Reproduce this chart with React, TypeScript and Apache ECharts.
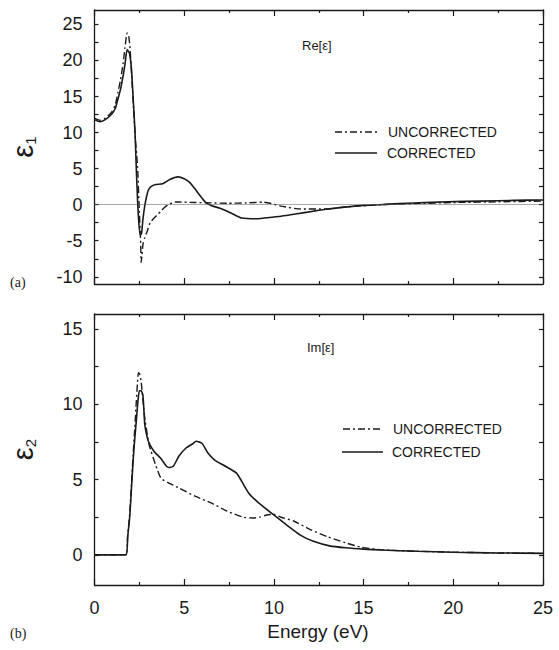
import React, { useEffect, useRef } from "react";
import * as echarts from "echarts";

// ---- Panel (a): Re[eps] ----
const reCorrE = [0, 0.3, 0.6, 0.94, 1.15, 1.3, 1.45, 1.59, 1.7, 1.82, 1.95, 2.06, 2.16, 2.26, 2.33, 2.4, 2.47, 2.55, 2.62, 2.7, 2.8, 2.9, 3.0, 3.15, 3.4, 3.8, 4.2, 4.65, 5.0, 5.3, 5.6, 5.9, 6.2, 6.5, 7.0, 7.4, 7.8, 8.2, 9.0, 10.0, 10.4, 11.2, 12.2, 13.0, 14.1, 15.0, 15.9, 17.0, 17.8, 19.7, 21.5, 23.4, 25];
const reCorrV = [11.8, 11.5, 11.8, 12.5, 13.3, 14.6, 16.0, 17.8, 19.5, 21.5, 21.0, 18.8, 14.5, 10.0, 5.0, 0.7, -2.5, -4.2, -4.0, -2.0, -0.2, 1.1, 2.0, 2.5, 2.8, 2.9, 3.5, 3.85, 3.6, 3.1, 2.2, 1.2, 0.3, -0.1, -0.5, -0.9, -1.4, -1.85, -1.95, -1.7, -1.6, -1.3, -0.9, -0.6, -0.3, -0.1, 0.0, 0.15, 0.23, 0.4, 0.5, 0.6, 0.65];
const reUncE = [0, 0.3, 0.6, 0.94, 1.15, 1.3, 1.45, 1.59, 1.7, 1.82, 1.9, 1.97, 2.06, 2.15, 2.28, 2.4, 2.5, 2.57, 2.6, 2.65, 2.7, 2.8, 2.95, 3.1, 3.3, 3.5, 3.7, 3.9, 4.1, 4.5, 5.0, 5.6, 6.5, 7.4, 8.5, 9.4, 9.8, 10.4, 11.5, 12.9, 14.1, 15.9, 17.8, 20, 22.5, 25];
const reUncV = [12.0, 11.7, 12.0, 12.8, 13.8, 15.5, 17.3, 19.5, 21.8, 23.8, 23.5, 22.0, 18.5, 14.6, 9.0, 5.3, -1.0, -5.0, -8.0, -7.0, -5.5, -4.6, -3.6, -2.5, -1.9, -1.4, -0.9, -0.4, 0.0, 0.37, 0.35, 0.3, 0.25, 0.2, 0.25, 0.35, 0.2, -0.2, -0.6, -0.6, -0.3, 0.0, 0.15, 0.3, 0.4, 0.5];

// ---- Panel (b): Im[eps] ----
const imCorrE = [0, 1.74, 1.85, 1.96, 2.05, 2.15, 2.25, 2.33, 2.42, 2.5, 2.6, 2.7, 2.8, 2.9, 3.0, 3.3, 3.7, 4.0, 4.15, 4.4, 4.7, 5.1, 5.5, 5.66, 6.0, 6.3, 6.7, 7.2, 7.9, 8.2, 8.6, 9.2, 10.0, 10.7, 11.5, 12.2, 13.1, 14.0, 15.0, 16.0, 18.0, 20.0, 22.5, 25];
const imCorrV = [0, 0, 1.2, 2.5, 4.2, 6.2, 7.8, 8.9, 10.2, 10.9, 10.9, 10.6, 8.7, 8.0, 7.55, 6.9, 6.4, 5.9, 5.8, 5.9, 6.55, 7.1, 7.4, 7.55, 7.4, 6.8, 6.3, 5.95, 5.45, 4.9, 4.1, 3.4, 2.65, 2.0, 1.3, 0.9, 0.6, 0.47, 0.38, 0.32, 0.24, 0.18, 0.13, 0.1];
const imUncE = [0, 1.74, 1.85, 1.96, 2.05, 2.15, 2.25, 2.33, 2.4, 2.45, 2.52, 2.6, 2.7, 2.8, 3.05, 3.4, 3.7, 4.1, 4.7, 5.6, 6.5, 7.4, 8.3, 8.8, 9.2, 9.6, 10.0, 10.4, 11.1, 12.0, 13.0, 14.0, 14.9, 15.9, 17, 18, 20, 22.5, 25];
const imUncV = [0, 0, 1.3, 2.7, 4.5, 6.6, 8.5, 10.2, 11.5, 12.1, 12.0, 11.5, 10.3, 9.1, 7.3, 6.0, 5.1, 4.8, 4.45, 3.9, 3.45, 2.9, 2.5, 2.45, 2.5, 2.65, 2.7, 2.5, 2.25, 1.7, 1.2, 0.8, 0.5, 0.35, 0.28, 0.24, 0.18, 0.13, 0.1];

// ---- Ticks ----
const reYTicks = [-10, -7.5, -5, -2.5, 0, 2.5, 5, 7.5, 10, 12.5, 15, 17.5, 20, 22.5, 25];
const reYLabels = [-10, -5, 0, 5, 10, 15, 20, 25];
const imYTicks = [0, 2.5, 5, 7.5, 10, 12.5, 15];
const imYLabels = [0, 5, 10, 15];

const legendNames = ["UNCORRECTED", "CORRECTED"];

const pair = (xs: number[], ys: number[]) => xs.map((x, i) => [x, ys[i]]);

const FONT = '"Liberation Sans", Arial, Helvetica, sans-serif';
const INK = "#1a1a1a";
const DASHDOT = [7, 3, 2, 3];

export default function App() {
  const ref = useRef<HTMLDivElement>(null);
  useEffect(() => {
    if (!ref.current) return;
    const chart = echarts.init(ref.current, null, { renderer: "svg" });
    const axisLine = { show: true, onZero: false, lineStyle: { color: INK, width: 1.3 } };
    const xBase = (gridIndex: number, position: string, showLabels: boolean) => ({
      type: "value",
      gridIndex,
      position,
      min: 0,
      max: 25,
      interval: 5,
      axisLine,
      axisTick: { show: true, inside: true, length: 6, lineStyle: { color: INK, width: 1.2 } },
      minorTick: { show: true, splitNumber: 2, length: 3, lineStyle: { color: INK, width: 1.2 } },
      splitLine: { show: false },
      axisLabel: showLabels
        ? { show: true, fontSize: 18, fontFamily: FONT, color: INK, margin: 14 }
        : { show: false },
    });
    const yBase = (gridIndex: number, position: string, min: number, max: number, ticks: number[], labels: number[], showLabels: boolean, name?: string) => ({
      type: "value",
      gridIndex,
      position,
      min,
      max,
      axisLine,
      axisTick: { show: true, inside: true, length: 4, customValues: ticks, lineStyle: { color: INK, width: 1.2 } },
      splitLine: { show: false },
      axisLabel: showLabels
        ? { show: true, customValues: labels, fontSize: 18, fontFamily: FONT, color: INK, margin: 12 }
        : { show: false },
      name: name || "",
      nameLocation: "middle",
      nameRotate: 90,
      nameGap: 57,
      nameTextStyle: {
        color: INK,
        fontFamily: FONT,
        rich: {
          e: { fontSize: 29, fontFamily: FONT, color: INK, lineHeight: 30, verticalAlign: "middle" },
          s: { fontSize: 15, fontFamily: FONT, color: INK, lineHeight: 30, verticalAlign: "bottom" },
        },
      },
    });

    const txt = (text: string, x: number, y: number, size: number, align = "left", family = FONT) => ({
      type: "text",
      x,
      y,
      silent: true,
      style: { text, fontSize: size, fontFamily: family, fill: INK, textAlign: align, textVerticalAlign: "middle", verticalAlign: "middle" },
    });
    const seg = (x1: number, x2: number, y: number, dash: boolean) => ({
      type: "line",
      silent: true,
      shape: { x1, y1: y, x2, y2: y },
      style: { stroke: INK, lineWidth: dash ? 1.4 : 1.5, lineDash: dash ? DASHDOT : null },
    });

    chart.setOption({
      animation: false,
      backgroundColor: "#fff",
      grid: [
        { left: 93, top: 10, width: 450, height: 274 },
        { left: 93, top: 314, width: 450, height: 271 },
      ],
      xAxis: [xBase(0, "bottom", false), xBase(0, "top", false), xBase(1, "bottom", true), xBase(1, "top", false)],
      yAxis: [
        yBase(0, "left", -11, 27, reYTicks, reYLabels, true, "{e|ε}{s|1}"),
        yBase(0, "right", -11, 27, reYTicks, reYLabels, false),
        yBase(1, "left", -2, 16, imYTicks, imYLabels, true, "{e|ε}{s|2}"),
        yBase(1, "right", -2, 16, imYTicks, imYLabels, false),
      ],
      series: [
        {
          name: legendNames[0] + " a",
          type: "line",
          xAxisIndex: 0,
          yAxisIndex: 0,
          data: pair(reUncE, reUncV),
          showSymbol: false,
          smooth: 0.2,
          lineStyle: { color: INK, width: 1.4, type: DASHDOT },
        },
        {
          name: legendNames[1] + " a",
          type: "line",
          xAxisIndex: 0,
          yAxisIndex: 0,
          data: pair(reCorrE, reCorrV),
          showSymbol: false,
          smooth: 0.2,
          lineStyle: { color: INK, width: 1.6 },
          markLine: {
            silent: true,
            symbol: "none",
            label: { show: false },
            lineStyle: { color: "#555", width: 1, type: "dotted" },
            data: [{ yAxis: 0 }],
          },
        },
        {
          name: legendNames[0] + " b",
          type: "line",
          xAxisIndex: 2,
          yAxisIndex: 2,
          data: pair(imUncE, imUncV),
          showSymbol: false,
          smooth: 0.2,
          lineStyle: { color: INK, width: 1.4, type: DASHDOT },
        },
        {
          name: legendNames[1] + " b",
          type: "line",
          xAxisIndex: 2,
          yAxisIndex: 2,
          data: pair(imCorrE, imCorrV),
          showSymbol: false,
          smooth: 0.2,
          lineStyle: { color: INK, width: 1.6 },
        },
      ],
      graphic: [
        txt("Re[ε]", 302, 45, 13),
        txt("Im[ε]", 307, 347, 13),
        txt("(a)", 10, 282, 14, "left", '"Liberation Serif", "Times New Roman", serif'),
        txt("(b)", 10, 633, 14, "left", '"Liberation Serif", "Times New Roman", serif'),
        txt("Energy (eV)", 318, 631, 19, "center"),
        seg(335, 377, 132, true),
        txt(legendNames[0], 388, 132, 14),
        seg(335, 377, 153, false),
        txt(legendNames[1], 387, 153, 14),
        seg(343, 383, 429, true),
        txt(legendNames[0], 393, 429, 14),
        seg(342, 383, 452, false),
        txt(legendNames[1], 392, 452, 14),
      ],
    });
    return () => chart.dispose();
  }, []);
  return <div ref={ref} style={{ position: "absolute", left: 0, top: 0, width: 559, height: 650 }} />;
}
